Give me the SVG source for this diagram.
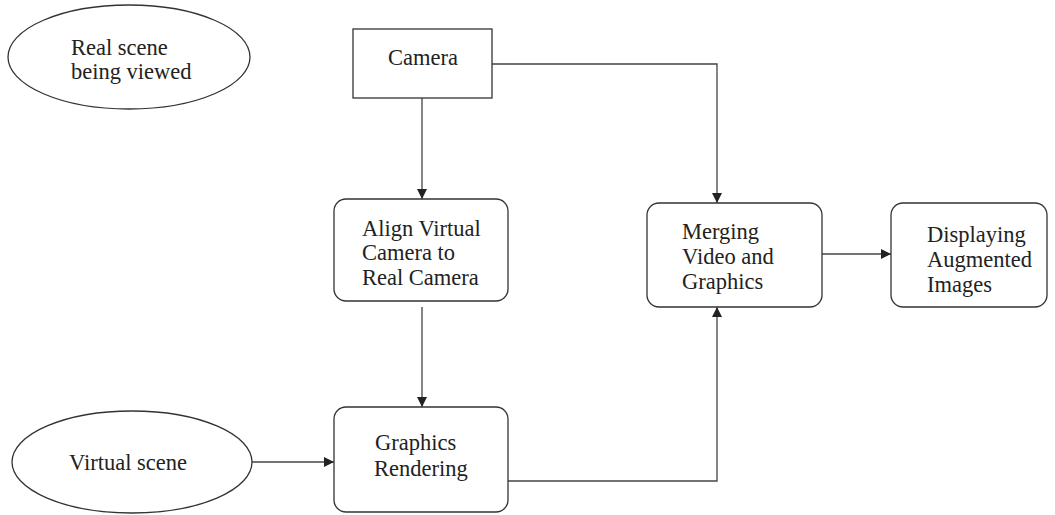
<svg xmlns="http://www.w3.org/2000/svg" width="1055" height="515" viewBox="0 0 1055 515">
  <style>
    .shape { fill: #ffffff; stroke: #333333; stroke-width: 1.3; }
    .label { font-family: 'Liberation Serif', 'Times New Roman', Tinos, 'DejaVu Serif', serif; font-size: 22.5px; fill: #222222; }
    .link { fill: none; stroke: #444444; stroke-width: 1.3; }
  </style>
  <defs>
    <marker id="arrow" viewBox="0 0 10 10" refX="10" refY="5" markerWidth="10" markerHeight="10" markerUnits="userSpaceOnUse" orient="auto">
      <path d="M0,0 L10,5 L0,10 Z" fill="#222222"/>
    </marker>
  </defs>

  <rect width="1055" height="515" fill="#ffffff"/>

  <g id="connectors">
    <line class="link" x1="422" y1="98" x2="422" y2="199" marker-end="url(#arrow)"/>
    <polyline class="link" points="491,64 717,64 717,203" marker-end="url(#arrow)"/>
    <line class="link" x1="422" y1="307" x2="422" y2="407" marker-end="url(#arrow)"/>
    <line class="link" x1="252" y1="462" x2="334" y2="462" marker-end="url(#arrow)"/>
    <polyline class="link" points="508,481 717,481 717,307" marker-end="url(#arrow)"/>
    <line class="link" x1="822" y1="254" x2="891" y2="254" marker-end="url(#arrow)"/>
  </g>

  <g id="real-scene">
    <ellipse class="shape" cx="129" cy="57" rx="121" ry="52"/>
    <text class="label" font-family="Liberation Serif, serif" x="71" y="55">Real scene</text>
    <text class="label" font-family="Liberation Serif, serif" x="71" y="79">being viewed</text>
  </g>

  <g id="camera">
    <rect class="shape" x="353" y="29" width="139" height="69"/>
    <text class="label" font-family="Liberation Serif, serif" x="388" y="65">Camera</text>
  </g>

  <g id="align-camera">
    <rect class="shape" x="334" y="199" width="174" height="102" rx="12" ry="12"/>
    <text class="label" font-family="Liberation Serif, serif" x="362" y="236">Align Virtual</text>
    <text class="label" font-family="Liberation Serif, serif" x="362" y="260">Camera to</text>
    <text class="label" font-family="Liberation Serif, serif" x="362" y="285">Real Camera</text>
  </g>

  <g id="merging">
    <rect class="shape" x="647" y="203" width="175" height="104" rx="12" ry="12"/>
    <text class="label" font-family="Liberation Serif, serif" x="682" y="239">Merging</text>
    <text class="label" font-family="Liberation Serif, serif" x="682" y="264">Video and</text>
    <text class="label" font-family="Liberation Serif, serif" x="682" y="289">Graphics</text>
  </g>

  <g id="displaying">
    <rect class="shape" x="891" y="203" width="156" height="104" rx="12" ry="12"/>
    <text class="label" font-family="Liberation Serif, serif" x="927" y="242">Displaying</text>
    <text class="label" font-family="Liberation Serif, serif" x="927" y="267">Augmented</text>
    <text class="label" font-family="Liberation Serif, serif" x="927" y="292">Images</text>
  </g>

  <g id="virtual-scene">
    <ellipse class="shape" cx="132" cy="462" rx="120" ry="51"/>
    <text class="label" font-family="Liberation Serif, serif" x="69" y="470">Virtual scene</text>
  </g>

  <g id="rendering">
    <rect class="shape" x="334" y="407" width="174" height="105" rx="12" ry="12"/>
    <text class="label" font-family="Liberation Serif, serif" x="375" y="450">Graphics</text>
    <text class="label" font-family="Liberation Serif, serif" x="374" y="476">Rendering</text>
  </g>
</svg>
